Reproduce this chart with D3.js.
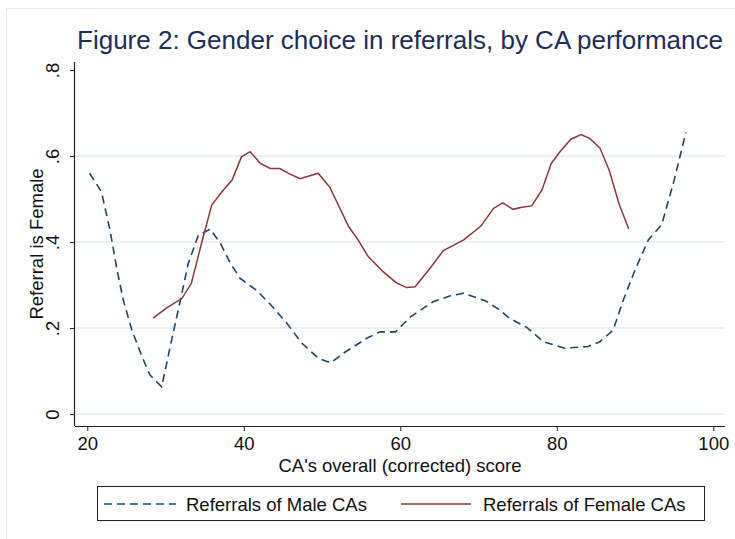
<!DOCTYPE html>
<html>
<head>
<meta charset="utf-8">
<script src="https://cdn.jsdelivr.net/npm/d3@7"></script>
<style>
  body { margin: 0; background: #fff; }
  svg text { font-family: "Liberation Sans", Arial, sans-serif; }
</style>
</head>
<body>
<div id="chart"></div>
<script>
// values
var maleX = [20.3, 21.8, 22.9, 23.8, 24.6, 25.7, 27.0, 28.0, 29.5, 30.6, 31.9, 32.9, 34.2, 35.7, 37.0, 38.3, 39.5, 41.6, 43.3, 45.5, 47.4, 49.5, 51.1, 52.7, 55.7, 57.4, 59.4, 61.3, 64.2, 66.4, 68.1, 71.0, 72.7, 74.0, 76.2, 78.3, 81.0, 84.0, 85.5, 87.2, 88.5, 90.0, 91.7, 93.4, 94.9, 96.5];
var maleY = [0.560, 0.517, 0.428, 0.335, 0.265, 0.195, 0.133, 0.091, 0.063, 0.157, 0.265, 0.350, 0.416, 0.430, 0.397, 0.350, 0.316, 0.288, 0.257, 0.211, 0.165, 0.130, 0.119, 0.141, 0.176, 0.191, 0.191, 0.226, 0.261, 0.275, 0.281, 0.262, 0.242, 0.222, 0.201, 0.168, 0.153, 0.157, 0.168, 0.195, 0.265, 0.335, 0.405, 0.440, 0.537, 0.655];

var femaleX = [28.4, 30.1, 32.1, 33.3, 34.6, 35.9, 37.2, 38.5, 39.7, 40.8, 42.1, 43.4, 44.6, 45.9, 47.2, 49.5, 51.0, 53.4, 54.6, 55.9, 57.8, 59.5, 60.8, 61.9, 63.8, 65.5, 68.1, 70.3, 71.9, 73.1, 74.4, 75.5, 76.8, 78.1, 79.3, 80.4, 81.8, 83.1, 84.2, 85.5, 86.7, 88.0, 89.2];
var femaleY = [0.223, 0.246, 0.269, 0.304, 0.397, 0.486, 0.517, 0.544, 0.598, 0.610, 0.583, 0.571, 0.571, 0.558, 0.547, 0.560, 0.527, 0.436, 0.405, 0.366, 0.331, 0.305, 0.294, 0.296, 0.339, 0.380, 0.405, 0.437, 0.478, 0.491, 0.476, 0.481, 0.484, 0.521, 0.583, 0.610, 0.639, 0.650, 0.641, 0.619, 0.567, 0.486, 0.430];

var xTicks = [20, 40, 60, 80, 100];
var yTicks = [0, 0.2, 0.4, 0.6, 0.8];
var yTickLabels = ["0", ".2", ".4", ".6", ".8"];

var titleText = "Figure 2: Gender choice in referrals, by CA performance";
var xTitle = "CA's overall (corrected) score";
var yTitle = "Referral is Female";
var seriesNames = ["Referrals of Male CAs", "Referrals of Female CAs"];

var W = 735, H = 539;
var navy = "#1a476f", maroon = "#90353b", titleColor = "#1c2d5c";
var labelSize = "18.5px";

var svg = d3.select("#chart").append("svg")
  .attr("width", W)
  .attr("height", H);

// faint outer frame
svg.append("rect")
  .attr("x", 6.5).attr("y", 8.5)
  .attr("width", W).attr("height", H)
  .style("fill", "none")
  .style("stroke", "#e4e9ee");

var plot = {left: 75, right: 725, top: 62, bottom: 426};

var x_scale = d3.scaleLinear()
  .domain([20, 100])
  .range([87.3, 713.3]);
var y_scale = d3.scaleLinear()
  .domain([0, 0.8])
  .range([414, 70]);

// gridlines (none at the top tick)
svg.append("g").selectAll("line")
  .data(yTicks.filter(d => d < 0.8)).enter()
  .append("line")
  .attr("x1", plot.left).attr("x2", plot.right)
  .attr("y1", d => y_scale(d)).attr("y2", d => y_scale(d))
  .style("stroke", "#e6eef1")
  .style("stroke-width", 1.3);

// axes
var xAxis = svg.append("g")
  .attr("transform", "translate(0," + plot.bottom + ")")
  .call(d3.axisBottom(x_scale).tickValues(xTicks).tickSize(5));
xAxis.select(".domain").attr("d", "M" + plot.left + ",0.5H" + plot.right);

var yAxis = svg.append("g")
  .attr("transform", "translate(" + plot.left + ",0)")
  .call(d3.axisLeft(y_scale).tickValues(yTicks).tickSize(5).tickFormat((d, i) => yTickLabels[i]));
yAxis.select(".domain").attr("d", "M-0.5," + plot.top + "V" + plot.bottom);

[xAxis, yAxis].forEach(a => {
  a.select(".domain").style("stroke", "#222").style("stroke-width", 1.2);
  a.selectAll(".tick line").style("stroke", "#222");
  a.selectAll(".tick text").style("font-size", labelSize).style("fill", "#111")
    .style("font-family", "'Liberation Sans', Arial, sans-serif");
});

// vertical y tick labels
yAxis.selectAll(".tick text")
  .attr("x", null).attr("dy", null)
  .attr("text-anchor", "middle")
  .attr("transform", "translate(-16,0) rotate(-90)");

xAxis.selectAll(".tick text").attr("y", 24).attr("dy", null);

// titles
svg.append("text")
  .attr("x", (plot.left + plot.right) / 2)
  .attr("y", 49)
  .attr("text-anchor", "middle")
  .style("font-size", "26px")
  .style("fill", titleColor)
  .text(titleText);

svg.append("text")
  .attr("x", (plot.left + plot.right) / 2)
  .attr("y", 472)
  .attr("text-anchor", "middle")
  .style("font-size", labelSize)
  .style("fill", "#111")
  .text(xTitle);

svg.append("text")
  .attr("transform", "translate(43," + ((plot.top + plot.bottom) / 2) + ") rotate(-90)")
  .attr("text-anchor", "middle")
  .style("font-size", labelSize)
  .style("fill", "#111")
  .text(yTitle);

// lines
var line_generator = d3.line()
  .x(d => x_scale(d[0]))
  .y(d => y_scale(d[1]));

var maleData = maleX.map((v, i) => [v, maleY[i]]);
var femaleData = femaleX.map((v, i) => [v, femaleY[i]]);

svg.append("path")
  .attr("d", line_generator(maleData))
  .style("fill", "none")
  .style("stroke", navy)
  .style("stroke-width", 1.6)
  .style("stroke-dasharray", "8,5");

svg.append("path")
  .attr("d", line_generator(femaleData))
  .style("fill", "none")
  .style("stroke", maroon)
  .style("stroke-width", 1.5);

// legend
var legend = svg.append("g");
legend.append("rect")
  .attr("x", 97.5).attr("y", 486.5)
  .attr("width", 607).attr("height", 34)
  .style("fill", "#fff")
  .style("stroke", "#222");

legend.append("line")
  .attr("x1", 104).attr("x2", 176)
  .attr("y1", 504).attr("y2", 504)
  .style("stroke", navy).style("stroke-width", 1.6)
  .style("stroke-dasharray", "8,5");
legend.append("text")
  .attr("x", 186).attr("y", 511)
  .style("font-size", labelSize).style("fill", "#111")
  .text(seriesNames[0]);

legend.append("line")
  .attr("x1", 401).attr("x2", 471)
  .attr("y1", 504).attr("y2", 504)
  .style("stroke", maroon).style("stroke-width", 1.5);
legend.append("text")
  .attr("x", 483).attr("y", 511)
  .style("font-size", labelSize).style("fill", "#111")
  .text(seriesNames[1]);
</script>
</body>
</html>
